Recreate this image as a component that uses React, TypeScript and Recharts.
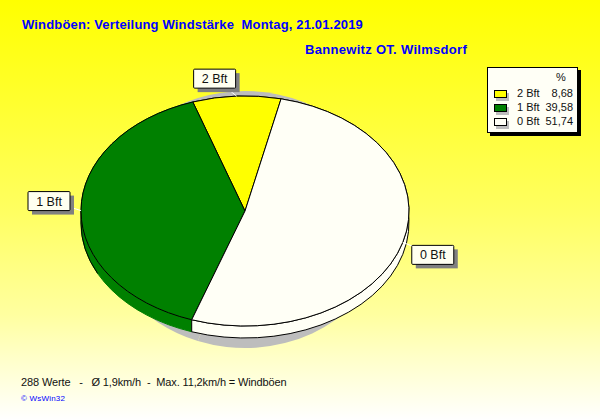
import { PieChart, Pie, Legend } from "recharts";

const CATEGORIES = ["2 Bft", "1 Bft", "0 Bft"];
const PERCENT = [8.68, 39.58, 51.74];
const PERCENT_LABELS = ["8,68", "39,58", "51,74"];
const COLORS = ["#ffff00", "#008000", "#fffff6"];

const TITLE = "Windböen: Verteilung Windstärke  Montag, 21.01.2019";
const STATION = "Bannewitz OT. Wilmsdorf";
const FOOTER = "288 Werte   -   Ø 1,9km/h  -  Max. 11,2km/h = Windböen";
const CREDIT = "© WsWin32";

const FONT = '"Liberation Sans", Arial, sans-serif';
const RATIO = 115 / 164; // the pie is tilted, so it is drawn as an ellipse
const DEPTH = 12;
const START = 77.3;

// box centre relative to the rim point of each slice
const LABEL_OFFSETS = [
  { dx: -22, dy: -18 },
  { dx: -32, dy: -10 },
  { dx: 30, dy: 12 },
];

const data = CATEGORIES.map((name, i) => ({ name, value: PERCENT[i], fill: COLORS[i] }));

const rim = (cx: number, cy: number, r: number, ratio: number, angle: number) => ({
  x: cx + r * Math.cos((angle * Math.PI) / 180),
  y: cy - r * ratio * Math.sin((angle * Math.PI) / 180),
});

function topFace(ratio: number, stroke: string) {
  return (p: any) => {
    const a = rim(p.cx, p.cy, p.outerRadius, ratio, p.startAngle);
    const b = rim(p.cx, p.cy, p.outerRadius, ratio, p.endAngle);
    const large = Math.abs(p.endAngle - p.startAngle) > 180 ? 1 : 0;
    const ry = p.outerRadius * ratio;
    return (
      <path
        d={`M${p.cx},${p.cy} L${a.x},${a.y} A${p.outerRadius},${ry} 0 ${large} 0 ${b.x},${b.y} Z`}
        fill={stroke === "none" ? "#bdbdbd" : p.fill}
        stroke={stroke}
      />
    );
  };
}

function wall(p: any) {
  const a = rim(p.cx, p.cy, p.outerRadius, RATIO, p.startAngle);
  const b = rim(p.cx, p.cy, p.outerRadius, RATIO, p.endAngle);
  const large = Math.abs(p.endAngle - p.startAngle) > 180 ? 1 : 0;
  const ry = p.outerRadius * RATIO;
  const isGreen = p.fill === COLORS[1];
  // the green wall only has a black edge on its far left
  const e1 = rim(p.cx, p.cy, p.outerRadius, RATIO, 180);
  const e2 = rim(p.cx, p.cy, p.outerRadius, RATIO, 206);
  return (
    <g>
      <path
        d={`M${a.x},${a.y} A${p.outerRadius},${ry} 0 ${large} 0 ${b.x},${b.y} L${b.x},${b.y + DEPTH} A${p.outerRadius},${ry} 0 ${large} 1 ${a.x},${a.y + DEPTH} Z`}
        fill={p.fill}
        stroke={isGreen ? COLORS[1] : "#000"}
      />
      {isGreen && (
        <path d={`M${e1.x},${e1.y} L${e1.x},${e1.y + DEPTH} A${p.outerRadius},${ry} 0 0 0 ${e2.x},${e2.y + DEPTH}`} fill="none" stroke="#000" />
      )}
    </g>
  );
}

function sliceLabel(p: any) {
  const at = rim(p.cx, p.cy, p.outerRadius, RATIO, p.midAngle);
  const off = LABEL_OFFSETS[p.index];
  const bx = at.x + off.dx;
  const by = at.y + off.dy;
  return (
    <g key={p.index}>
      <line x1={at.x} y1={at.y} x2={bx} y2={by} stroke="#fff" />
      <rect x={bx - 21} y={by - 9} width={42} height={19} fill="#808080" transform="translate(4 4)" />
      <rect x={bx - 21} y={by - 9} width={42} height={19} rx={1} fill="#fffff0" stroke="#000" />
      <text x={bx} y={by + 5} textAnchor="middle" fontFamily={FONT} fontSize={12.5} fill="#111">
        {p.name}
      </text>
    </g>
  );
}

function LegendBox() {
  const row = { position: "absolute" as const, fontFamily: FONT, fontSize: 11, color: "#111", lineHeight: "14px" };
  return (
    <div style={{ position: "relative", width: 91, height: 66, background: "#fffff6", border: "1px solid #000", boxSizing: "border-box", boxShadow: "3px 3px 0 #000" }}>
      <div style={{ ...row, left: 68, top: 2 }}>%</div>
      {CATEGORIES.map((c, i) => (
        <div key={c}>
          <div style={{ position: "absolute", left: 6, top: 22 + i * 14, width: 11, height: 6, background: COLORS[i], border: "1px solid #000", boxShadow: "2px 3px 0 #bdbdbd" }} />
          <div style={{ ...row, left: 29, top: 18 + i * 14 }}>{c}</div>
          <div style={{ ...row, right: 4, top: 18 + i * 14 }}>{PERCENT_LABELS[i]}</div>
        </div>
      ))}
    </div>
  );
}

export default function App() {
  return (
    <div style={{ position: "absolute", left: 0, top: 0, width: 600, height: 420, background: "linear-gradient(#ffff00 0%, #ffff60 50%, #ffffa0 75%, #ffffc8 85%, #ffffff 100%)" }}>
      <PieChart width={600} height={420} margin={{ top: 0, right: 0, bottom: 0, left: 0 }}>
        <Pie data={data} dataKey="value" cx={245} cy={219.5} outerRadius={145} startAngle={START} endAngle={START + 360} stroke="none"
          shape={topFace(128.5 / 145, "none")} isAnimationActive={false} legendType="none" />
        <Pie data={data} dataKey="value" cx={245} cy={211} outerRadius={164} startAngle={START} endAngle={START + 360}
          shape={wall} isAnimationActive={false} legendType="none" />
        <Pie data={data} dataKey="value" cx={245} cy={211} outerRadius={164} startAngle={START} endAngle={START + 360}
          shape={topFace(RATIO, "#000")} label={sliceLabel} labelLine={false} isAnimationActive={false} />
        <Legend content={<LegendBox />} wrapperStyle={{ position: "absolute", left: 487, top: 67, width: 91, height: 66, bottom: "auto" }} />
        <text x={22} y={29} fontFamily={FONT} fontSize={13} fontWeight="bold" fill="#0000ff" letterSpacing={0.16} style={{ whiteSpace: "pre" }}>{TITLE}</text>
        <text x={305} y={54} fontFamily={FONT} fontSize={13} fontWeight="bold" fill="#0000ff" letterSpacing={0.3}>{STATION}</text>
        <text x={21} y={386} fontFamily={FONT} fontSize={11} fill="#111" letterSpacing={-0.13} style={{ whiteSpace: "pre" }}>{FOOTER}</text>
        <text x={21} y={401} fontFamily={FONT} fontSize={8} fill="#0000ff" letterSpacing={0.2}>{CREDIT}</text>
      </PieChart>
    </div>
  );
}
